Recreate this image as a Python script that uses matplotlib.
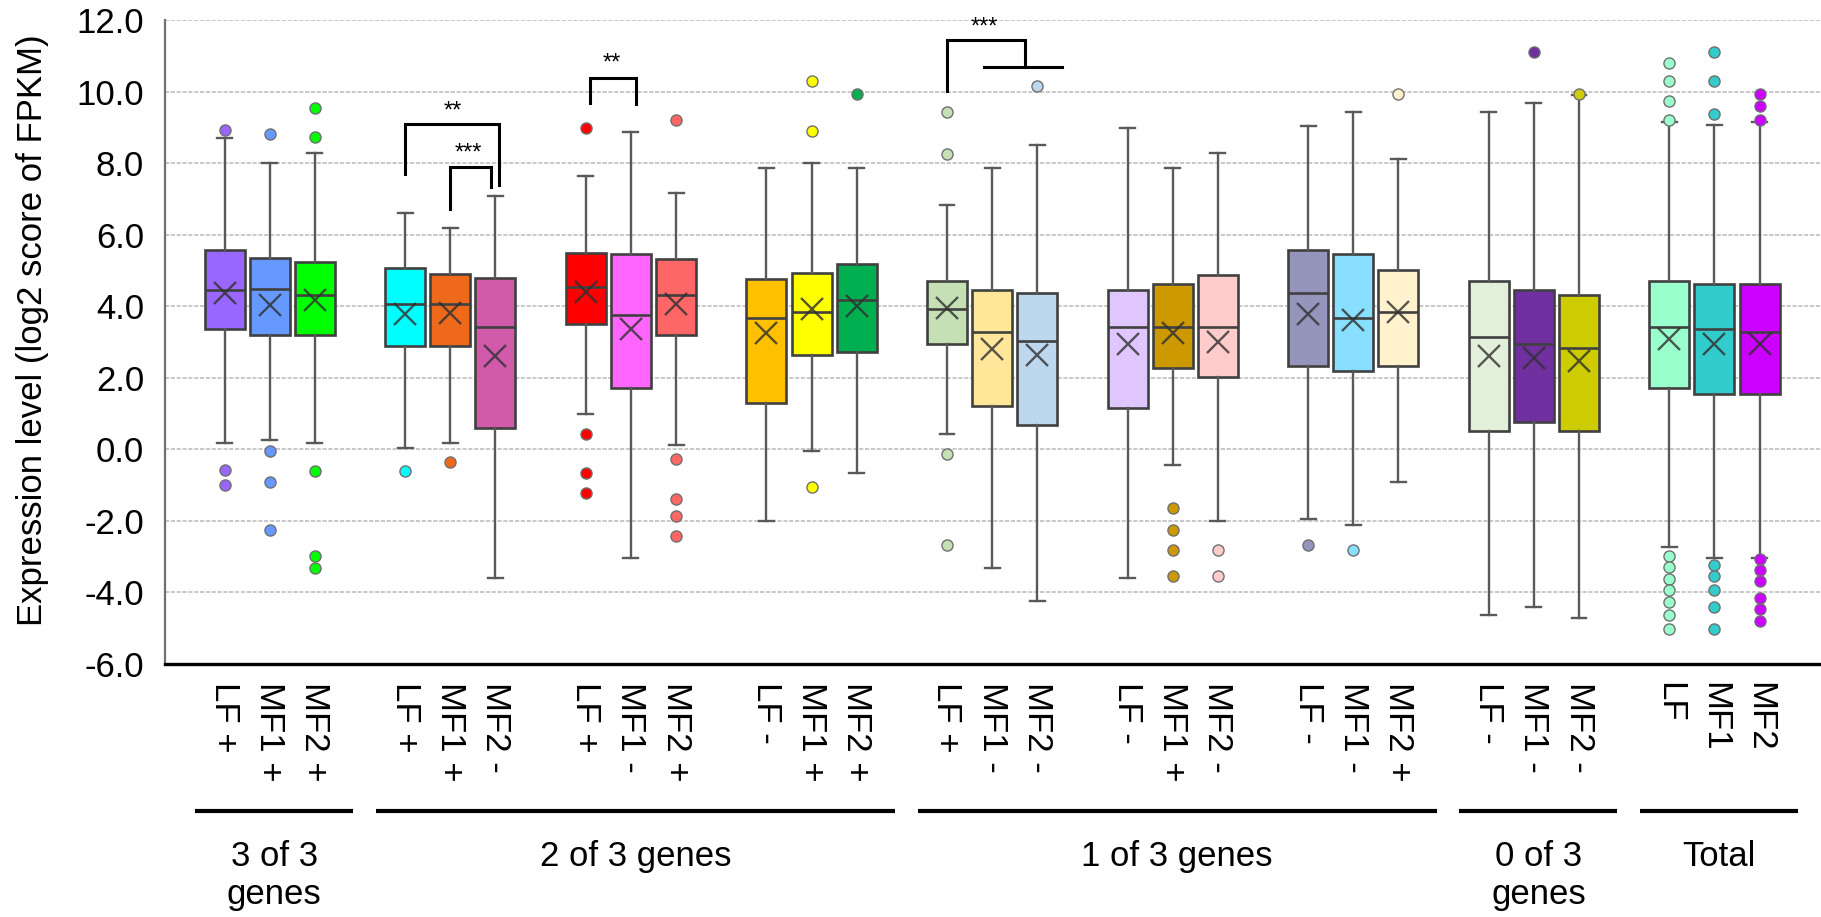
import matplotlib
matplotlib.use("Agg")
import matplotlib.pyplot as plt
import matplotlib.transforms as mtransforms
import numpy as np

plt.rcParams['font.family'] = ['Liberation Sans', 'DejaVu Sans']

# box labels (reads top to bottom under each box)
labels = ["LF +", "MF1 +", "MF2 +",
          "LF +", "MF1 +", "MF2 -",
          "LF +", "MF1 -", "MF2 +",
          "LF -", "MF1 +", "MF2 +",
          "LF +", "MF1 -", "MF2 -",
          "LF -", "MF1 +", "MF2 -",
          "LF -", "MF1 -", "MF2 +",
          "LF -", "MF1 -", "MF2 -",
          "LF", "MF1", "MF2"]

colors = ["#9966FF", "#6699FF", "#00FF00",
          "#00FFFF", "#EE6A1A", "#D25AAA",
          "#FF0000", "#FF66FF", "#FF6666",
          "#FFC000", "#FFFF00", "#00B050",
          "#C5E0B4", "#FFE699", "#BDD7EE",
          "#DFC6FE", "#CC9900", "#FFCCCC",
          "#9494BC", "#88DFFF", "#FFF2CC",
          "#E2EFDA", "#7030A0", "#CCCC00",
          "#99FFCC", "#33CCCC", "#CC00FF"]

whishi = [8.69, 8.00, 8.28, 6.60, 6.20, 7.07, 7.63, 8.88, 7.16,
          7.86, 8.00, 7.86, 6.82, 7.86, 8.50, 8.98, 7.86, 8.28,
          9.04, 9.44, 8.11, 9.44, 9.69, 9.90, 9.15, 9.07, 9.15]
q3 = [5.57, 5.35, 5.23, 5.07, 4.91, 4.78, 5.48, 5.47, 5.32,
      4.76, 4.92, 5.17, 4.70, 4.45, 4.36, 4.45, 4.61, 4.86,
      5.57, 5.47, 5.01, 4.70, 4.45, 4.30, 4.70, 4.61, 4.61]
med = [4.45, 4.47, 4.32, 4.07, 4.07, 3.41, 4.54, 3.75, 4.32,
       3.67, 3.85, 4.16, 3.91, 3.29, 3.04, 3.41, 3.41, 3.41,
       4.36, 3.67, 3.85, 3.14, 2.95, 2.82, 3.42, 3.35, 3.29]
means = [4.36, 4.04, 4.17, 3.79, 3.80, 2.61, 4.39, 3.35, 4.07,
         3.26, 3.91, 4.01, 3.95, 2.80, 2.64, 2.95, 3.26, 3.01,
         3.79, 3.60, 3.85, 2.61, 2.54, 2.48, 3.07, 2.95, 2.95]
q1 = [3.35, 3.20, 3.20, 2.89, 2.89, 0.58, 3.51, 1.70, 3.20,
      1.30, 2.64, 2.73, 2.95, 1.20, 0.67, 1.14, 2.26, 2.01,
      2.33, 2.18, 2.33, 0.52, 0.77, 0.52, 1.70, 1.54, 1.54]
whislo = [0.18, 0.27, 0.18, 0.04, 0.18, -3.60, 0.98, -3.04, 0.12,
          -2.02, -0.05, -0.67, 0.43, -3.32, -4.25, -3.60, -0.45, -2.02,
          -1.96, -2.11, -0.92, -4.64, -4.42, -4.73, -2.73, -3.04, -3.04]
outliers = [[8.92, -0.58, -1.00],
            [8.82, -0.05, -0.92, -2.27],
            [9.53, 8.72, -0.61, -2.98, -3.32],
            [-0.61],
            [-0.37],
            [],
            [8.98, 0.43, -0.67, -1.23],
            [],
            [9.22, -0.27, -1.38, -1.86, -2.42],
            [],
            [10.31, 8.89, -1.07],
            [9.92],
            [9.44, 8.26, -0.13, -2.67],
            [],
            [10.16],
            [],
            [-1.63, -2.27, -2.82, -3.54],
            [-2.82, -3.54],
            [-2.67],
            [-2.82],
            [9.92],
            [],
            [11.10],
            [9.92],
            [10.81, 10.31, 9.75, 9.22, -2.98, -3.29, -3.62, -3.94, -4.27, -4.64, -5.04],
            [11.10, 10.31, 9.38, -3.23, -3.54, -3.94, -4.42, -5.04],
            [9.94, 9.60, 9.22, -3.06, -3.39, -3.69, -4.17, -4.48, -4.79]]

group_names = ["3 of 3\ngenes", "2 of 3 genes", "1 of 3 genes", "0 of 3\ngenes", "Total"]
group_spans = [(0, 0), (1, 3), (4, 6), (7, 7), (8, 8)]

# significance brackets: (x left, x right, y top, y left end, y right end, text, text x, text y)
brackets = [(4.0, 6.08, 9.09, 7.69, 7.39, "**", 5.05, 9.45),
            (5.0, 5.91, 7.90, 6.72, 7.34, "***", 5.39, 8.28),
            (8.1, 9.12, 10.37, 9.69, 9.66, "**", 8.58, 10.78)]

positions = [4 * g + j for g in range(9) for j in range(3)]

stats = []
for i in range(len(labels)):
    stats.append(dict(med=med[i], q1=q1[i], q3=q3[i], whislo=whislo[i],
                      whishi=whishi[i], mean=means[i], fliers=outliers[i]))

fig = plt.figure(figsize=(18.21, 9.17), dpi=100)
ax = fig.add_axes([165 / 1821, 1 - 663.8 / 917, 1 - 165 / 1821, (663.8 - 20.1) / 917])

edge = "#404040"
res = ax.bxp(stats, positions=positions, widths=0.886, capwidths=0.33,
             patch_artist=True, showmeans=True, meanline=False,
             boxprops=dict(edgecolor=edge, linewidth=1.9),
             whiskerprops=dict(color="#595959", linewidth=1.7),
             capprops=dict(color="#595959", linewidth=1.7),
             medianprops=dict(color=edge, linewidth=1.9),
             meanprops=dict(marker="x", markersize=16, markeredgewidth=1.7,
                            markeredgecolor="#303030", alpha=0.8),
             flierprops=dict(marker="o", markersize=8, markeredgecolor="#707070",
                             markeredgewidth=1.0))
for patch, c in zip(res['boxes'], colors):
    patch.set_facecolor(c)
for fl, c in zip(res['fliers'], colors):
    fl.set_markerfacecolor(c)

ax.set_ylim(-6, 12)
ax.set_xlim(-1.32, 35.36)
yt = np.arange(-6, 13, 2)
ax.set_yticks(yt)
ax.set_yticklabels([f"{v:.1f}" for v in yt], fontsize=25)
ax.set_xticks(positions)
ax.set_xticklabels(labels, fontsize=25, rotation=270, va="top", ha="center")
ax.tick_params(axis="y", length=0, pad=15)
ax.tick_params(axis="x", length=0, pad=13)

ax.grid(axis="y", color="#BFBFBF", linestyle=(0, (2.5, 1.0)), linewidth=1.2)
ax.set_axisbelow(True)
for s in ["top", "right"]:
    ax.spines[s].set_visible(False)
ax.spines["left"].set_color("#707070")
ax.spines["left"].set_linewidth(1.6)
ax.spines["bottom"].set_color("black")
ax.spines["bottom"].set_linewidth(2.4)

fig.text(32.6 / 1821, 1 - 330 / 917, "Expression level (log2 score of FPKM)",
         rotation=90, ha="center", va="center", fontsize=25)

# significance brackets
for xl, xr, yt_, yl, yr, txt, tx, ty in brackets:
    ax.plot([xl, xl, xr, xr], [yl, yt_, yt_, yr], color="black", linewidth=2.2,
            solid_joinstyle="miter", clip_on=False)
    ax.text(tx, ty, txt, ha="center", va="center", fontsize=17)
# forked bracket over the "1 of 3 genes" LF+ box
ax.plot([16.0, 16.0, 17.73, 17.73], [10.02, 11.45, 11.45, 10.70], color="black",
        linewidth=2.2, solid_joinstyle="miter", clip_on=False)
ax.plot([16.82, 18.55], [10.70, 10.70], color="black", linewidth=2.2)
ax.text(16.83, 11.78, "***", ha="center", va="center", fontsize=17)

# group lines and names under the axis
trans = mtransforms.blended_transform_factory(ax.transData, ax.transAxes)
for name, (a, b) in zip(group_names, group_spans):
    x0 = 4 * a + 1 - 1.65
    x1 = 4 * b + 1 + 1.85
    ax.plot([x0, x1], [-0.2282, -0.2282], color="black", linewidth=3.0,
            transform=trans, clip_on=False, solid_capstyle="butt")
    ax.text((x0 + x1) / 2, -0.2737, name, transform=trans, ha="center", va="top",
            fontsize=25, linespacing=1.2)

fig.savefig("out.png", dpi=100)
